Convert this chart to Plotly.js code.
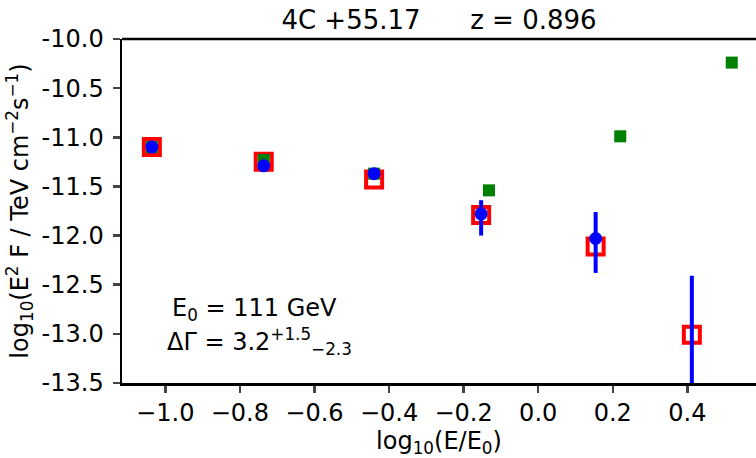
<!DOCTYPE html>
<html><head><meta charset="utf-8">
<script src="https://cdn.plot.ly/plotly-3.0.1.min.js"></script>
<style>body{margin:0;padding:0;background:#fff}</style>
</head><body>
<div id="chart" style="width:756px;height:458px"></div>
<script>
const redX = [-1.036, -0.736, -0.44, -0.153, 0.154, 0.412];
const redY = [-11.10, -11.25, -11.43, -11.79, -12.11, -13.01];
const blueX = [-1.036, -0.736, -0.44, -0.153, 0.154, 0.412];
const blueY = [-11.10, -11.29, -11.37, -11.78, -12.03, -13.8];
const blueErrPlus = [0.0, 0.0, 0.05, 0.14, 0.27, 1.39];
const blueErrMinus = [0.0, 0.0, 0.05, 0.22, 0.35, 1.0];
const greenX = [-1.036, -0.736, -0.44, -0.132, 0.22, 0.519];
const greenY = [-11.10, -11.23, -11.37, -11.54, -10.99, -10.24];
const yTickVals = [-10.0, -10.5, -11.0, -11.5, -12.0, -12.5, -13.0, -13.5];
const yTickText = ['-10.0', '-10.5', '-11.0', '-11.5', '-12.0', '-12.5', '-13.0', '-13.5'];
const xTickVals = [-1.0, -0.8, -0.6, -0.4, -0.2, 0.0, 0.2, 0.4];

const font = 'DejaVu Sans, sans-serif';
const traces = [
  {x: redX, y: redY, type: 'scatter', mode: 'markers',
   marker: {symbol: 'square-open', size: 16, color: 'red', line: {width: 4, color: 'red'}}},
  {x: greenX, y: greenY, type: 'scatter', mode: 'markers',
   marker: {symbol: 'square', size: 12, color: 'green'}},
  {x: blueX, y: blueY, type: 'scatter', mode: 'markers',
   marker: {symbol: 'circle', size: 13, color: 'blue'},
   error_y: {type: 'data', symmetric: false, array: blueErrPlus, arrayminus: blueErrMinus,
             color: 'blue', thickness: 4, width: 0}}
];
const layout = {
  width: 756, height: 458, showlegend: false,
  paper_bgcolor: '#fff', plot_bgcolor: '#fff',
  margin: {l: 122, r: 0, t: 39, b: 75},
  font: {family: font, color: '#000', size: 24},
  title: {text: '4C +55.17      z = 0.896', font: {family: font, size: 26, color: '#000'},
          xref: 'paper', x: 0.5, xanchor: 'center', y: 0.956, yanchor: 'middle'},
  xaxis: {range: [-1.116, 0.584], tickvals: xTickVals, tickformat: '.1f', ticks: 'outside', ticklen: 7, tickwidth: 2.5,
          showline: true, linewidth: 2.5, linecolor: '#000', mirror: false, showgrid: false, zeroline: false,
          tickfont: {family: font, size: 24},
          title: {text: 'log<sub>10</sub>(E/E<sub>0</sub>)', font: {family: font, size: 24}, standoff: 2}},
  yaxis: {range: [-13.5, -10.0], tickvals: yTickVals, ticktext: yTickText, ticks: 'outside', ticklen: 7, tickwidth: 2.5,
          showline: true, linewidth: 2.5, linecolor: '#000', showgrid: false, zeroline: false,
          tickfont: {family: font, size: 24}, ticklabelstandoff: 4,
          title: {text: 'log<sub>10</sub>(E<sup>2</sup> F / TeV cm<sup>−2</sup>s<sup>−1</sup>)', font: {family: font, size: 24}, standoff: 6}},
  shapes: [{type: 'line', xref: 'paper', yref: 'paper', x0: 0, x1: 1, y0: 1, y1: 1, line: {color: '#000', width: 2.5}}],
  annotations: [
    {xref: 'paper', yref: 'paper', x: 0.075, y: 0.213, xanchor: 'left', yanchor: 'middle', showarrow: false,
     text: 'E<sub>0</sub> = 111 GeV', font: {family: font, size: 24}},
    {xref: 'paper', yref: 'paper', x: 0.068, y: 0.12, xanchor: 'left', yanchor: 'middle', showarrow: false,
     text: 'ΔΓ = 3.2<sup>+1.5</sup><sub>−2.3</sub>', font: {family: font, size: 24}}
  ]
};
Plotly.newPlot('chart', traces, layout, {displayModeBar: false, staticPlot: true});
</script>
</body></html>
